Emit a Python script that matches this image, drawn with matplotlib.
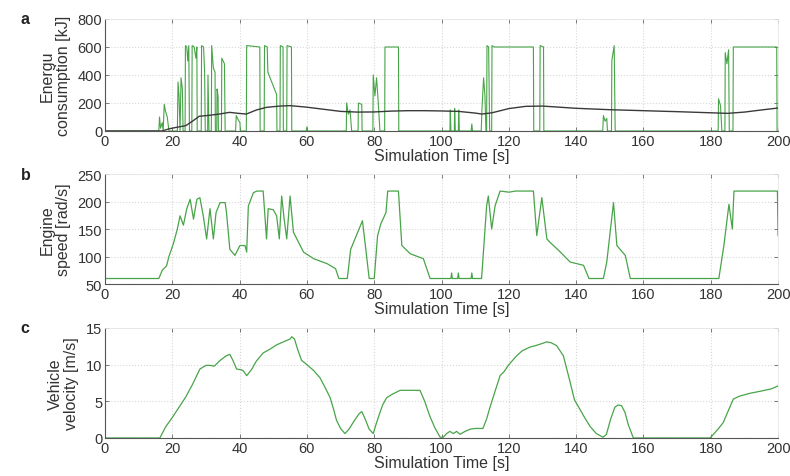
import matplotlib
matplotlib.use("Agg")
import matplotlib.pyplot as plt
import numpy as np

plt.rcParams['font.family'] = ['Liberation Sans', 'DejaVu Sans']

# ---------------- data ----------------
x_ticks = [0, 20, 40, 60, 80, 100, 120, 140, 160, 180, 200]
energy_yticks = [0, 200, 400, 600, 800]
speed_yticks = [50, 100, 150, 200, 250]
velocity_yticks = [0, 5, 10, 15]

# Panel a: switching energy consumption signal (green)
energy_t = [0, 16, 16.2, 16.5, 17, 17.3, 17.6, 18, 18.5, 19, 21.5, 21.7, 22, 22.3, 22.6, 23, 23.2,
            23.8, 23.9, 24.3, 24.6, 24.9, 25.1, 25.8, 25.9, 26.5, 27, 27.3, 27.4, 28.6, 28.7, 29.3,
            29.6, 29.8, 30.5, 30.6, 30.9, 31.6, 31.7, 32.2, 32.7, 32.8, 33.2, 33.3, 33.6, 33.7, 34.6,
            34.7, 35.5, 35.7, 38.8, 39, 39.6, 40.1, 40.2, 42, 42.1, 46, 46.1, 47.3, 47.4, 48.2, 48.4,
            51, 51.1, 52, 52.1, 52.9, 53, 54, 54.1, 55.4, 55.5, 59.8, 60, 60.2, 71.7, 71.8, 72.3, 72.8,
            73.3, 75.2, 75.3, 76.3, 76.4, 79.6, 79.7, 80.2, 80.7, 81.2, 81.7, 83.1, 83.2, 87.2, 87.3,
            102.5, 102.6, 102.8, 103.8, 103.9, 104.1, 105, 105.1, 105.3, 108.8, 109, 109.2, 111.8, 112,
            112.5, 112.9, 113.2, 113.4, 113.5, 114, 114.3, 114.9, 115, 115.6, 127.3, 127.4, 129.2,
            129.3, 130.3, 130.4, 147.9, 148.1, 148.6, 149.1, 149.3, 150.5, 150.6, 151.3, 151.6, 182.2,
            182.3, 182.9, 183.3, 184.2, 184.3, 184.8, 185.3, 185.5, 186.6, 186.7, 199.6, 199.7, 200]
energy_v = [0, 0, 100, 20, 60, 0, 190, 140, 100, 0, 0, 350, 250, 0, 380, 300, 0,
            0, 610, 600, 500, 610, 0, 0, 610, 600, 520, 600, 0, 0, 610, 600,
            420, 0, 0, 400, 0, 0, 610, 450, 420, 0, 0, 300, 250, 0, 0,
            520, 480, 0, 0, 110, 80, 60, 0, 0, 610, 600, 0, 0, 610, 600, 420,
            260, 0, 0, 610, 600, 0, 0, 610, 600, 0, 0, 30, 0, 0, 200, 120, 150,
            0, 0, 200, 190, 0, 0, 400, 250, 380, 200, 0, 0, 600, 600, 0,
            0, 150, 0, 0, 160, 0, 0, 150, 0, 0, 50, 0, 0, 150,
            380, 250, 0, 0, 610, 600, 0, 0, 610, 600, 600, 0, 0,
            610, 600, 0, 0, 110, 70, 90, 0, 0, 500, 610, 0, 0,
            230, 180, 0, 0, 560, 480, 580, 0, 0, 600, 600, 0, 0]

# Panel a: smooth energy curve (dark)
energy_smooth_t = [0, 17, 19, 21, 24, 26, 28, 31, 34, 37, 40, 42, 45, 48, 52, 55, 60, 65, 70, 75, 80,
                   85, 90, 95, 100, 105, 110, 112, 115, 120, 125, 130, 135, 140, 150, 160, 170, 180,
                   185, 190, 195, 200]
energy_smooth_v = [0, 0, 15, 25, 38, 70, 105, 112, 121, 133, 125, 121, 150, 169, 178, 181, 170, 155,
                   140, 135, 136, 142, 145, 145, 143, 140, 128, 121, 130, 160, 176, 178, 170, 162, 152,
                   145, 138, 130, 126, 135, 150, 164]

# Panel b: engine speed
speed_t = [0, 16, 17, 18.3, 19, 20.3, 21.5, 22.3, 23.3, 24.3, 25.3, 26.3, 27.3, 28.2, 29.2, 30.2, 31.2,
           32.2, 33, 34.2, 35.7, 36.1, 37.1, 38.6, 40.1, 41.6, 42.1, 42.6, 44.1, 45.1, 47, 48, 48.5,
           50, 51, 51.8, 52.5, 53.2, 54, 55, 56, 59, 62, 66, 68.5, 69.5, 72, 73, 76.5, 77.5, 78.5, 80,
           81, 82, 83.5, 84, 87.2, 88.2, 90.7, 94.6, 96.6, 102.8, 103, 103.2, 104.8, 105, 105.2, 108.8,
           109, 109.2, 111.9, 113.4, 113.9, 114.9, 115.9, 117.4, 120, 122, 127.3, 128.3, 129.8, 131.3,
           132.2, 135, 138.2, 142.2, 143.8, 148.1, 149.1, 151.1, 152.1, 154.6, 156.1, 182.4, 183.9,
           185.4, 186.4, 186.9, 199.8, 200]
speed_v = [60, 60, 75, 83, 100, 123, 150, 174, 157, 187, 204, 168, 204, 207, 174, 132, 187,
           132, 180, 198, 198, 180, 113, 102, 120, 120, 108, 192, 216, 219, 219, 132, 187,
           185, 174, 132, 210, 170, 132, 210, 144, 108, 96, 87, 78, 60, 60, 113, 165, 113, 60, 60,
           138, 160, 180, 219, 219, 120, 105, 96, 60, 60, 70, 60, 60, 70, 60, 60,
           70, 60, 60, 192, 210, 150, 192, 219, 217, 219, 219, 138, 207, 132,
           126, 110, 90, 84, 60, 60, 90, 198, 120, 102, 60, 60, 120,
           195, 150, 219, 219, 138]

# Panel c: vehicle velocity
velocity_t = [0, 16.3, 18, 20, 22.3, 24, 26, 28.2, 30, 31.2, 32.5, 34, 36, 37.1, 38, 39.1, 40.5, 41.2,
              42.1, 43.5, 45, 47, 49, 51, 53, 55, 55.5, 56.3, 57.3, 58.4, 60, 62, 63.9, 65.5, 66.9,
              68, 68.8, 70, 71.3, 72.5, 74, 75.5, 76.3, 77.3, 78.5, 79.7, 80.5, 81.5, 82.5, 83.7,
              85.5, 87.7, 93.6, 95, 96.5, 98, 99.6, 100.5, 101.5, 102.5, 103.5, 104.5, 105.5, 107,
              108.5, 110, 112.3, 113.4, 114.4, 116, 117.4, 118.5, 120, 122.3, 124, 126.3, 128, 130,
              131.2, 132.5, 134.2, 136.2, 138, 139.5, 141, 142.5, 144.1, 146, 148, 149, 150.2, 151.5,
              152.5, 153.5, 154.5, 155.5, 157, 179.8, 181, 182.5, 183.7, 185, 186.7, 188.5, 191.7,
              195, 198, 200]
velocity_v = [0, 0, 1.5, 2.8, 4.4, 5.6, 7.3, 9.4, 9.9, 9.9, 9.8, 10.5, 11.2, 11.4, 10.6, 9.4, 9.3, 9.1,
              8.5, 9.3, 10.5, 11.6, 12.1, 12.7, 13.1, 13.5, 13.8, 13.5, 12.0, 10.6, 10.0, 9.2, 8.2, 6.8, 5.5,
              3.8, 2.4, 1.3, 0.6, 1.2, 2.3, 3.3, 3.6, 2.6, 1.2, 0.6, 1.8, 3.2, 4.5, 5.5,
              6.0, 6.5, 6.5, 5.0, 3.0, 1.4, 0.1, 0.1, 0.6, 0.9, 0.6, 0.9, 0.5, 0.9,
              1.2, 1.3, 1.3, 2.6, 4.2, 6.5, 8.5, 9.0, 10.0, 11.2, 11.9, 12.4, 12.6, 12.9,
              13.1, 13.0, 12.6, 11.2, 8.0, 5.2, 4.0, 2.8, 1.6, 0.6, 0.1, 0.5, 2.5, 4.2,
              4.5, 4.4, 3.5, 1.8, 0, 0, 0.6, 1.4, 2.1, 3.5, 5.3, 5.7, 6.1,
              6.4, 6.7, 7.1]

# ---------------- figure ----------------
GREEN = "#48a448"
TXT = "#333333"

fig = plt.figure(figsize=(7.9, 4.77), dpi=100)
left, width = 0.1329, 0.852
ax_a = fig.add_axes([left, 0.7233, width, 0.2348])
ax_b = fig.add_axes([left, 0.4025, width, 0.2306])
ax_c = fig.add_axes([left, 0.0797, width, 0.2306])


def style(ax, yticks, ylabel, letter):
    ax.set_xlim(0, 200)
    ax.set_ylim(yticks[0], yticks[-1])
    ax.set_xticks(x_ticks)
    ax.set_yticks(yticks)
    ax.grid(True, color="#d8d8d8", linestyle=":", linewidth=0.8)
    ax.set_axisbelow(True)
    ax.tick_params(direction="in", length=3, width=0.6, colors="#666666",
                   labelcolor=TXT, labelsize=10.5, top=True, right=True, pad=2)
    for s in ["left", "bottom"]:
        ax.spines[s].set_color("#555555")
        ax.spines[s].set_linewidth(0.8)
    for s in ["top", "right"]:
        ax.spines[s].set_color("#e6e6e6")
        ax.spines[s].set_linewidth(0.6)
    ax.set_xlabel("Simulation Time [s]", fontsize=11.5, color=TXT, labelpad=0)
    ax.set_ylabel(ylabel, fontsize=11.5, color=TXT, labelpad=5, linespacing=1.05)
    ax.text(-0.125, 1.0, letter, transform=ax.transAxes, fontsize=11.5,
            fontweight="bold", color="#222222", ha="left", va="center")


ax_a.plot(energy_t, energy_v, color=GREEN, lw=0.8)
ax_a.plot(energy_smooth_t, energy_smooth_v, color="#3a3a3a", lw=1.0)
style(ax_a, energy_yticks, "Energu\nconsumption [kJ]", "a")

ax_b.plot(speed_t, speed_v, color=GREEN, lw=0.9)
style(ax_b, speed_yticks, "Engine\nspeed [rad/s]", "b")

ax_c.plot(velocity_t, velocity_v, color=GREEN, lw=0.9)
style(ax_c, velocity_yticks, "Vehicle\nvelocity [m/s]", "c")

fig.savefig("out.png", dpi=100, facecolor="white")
